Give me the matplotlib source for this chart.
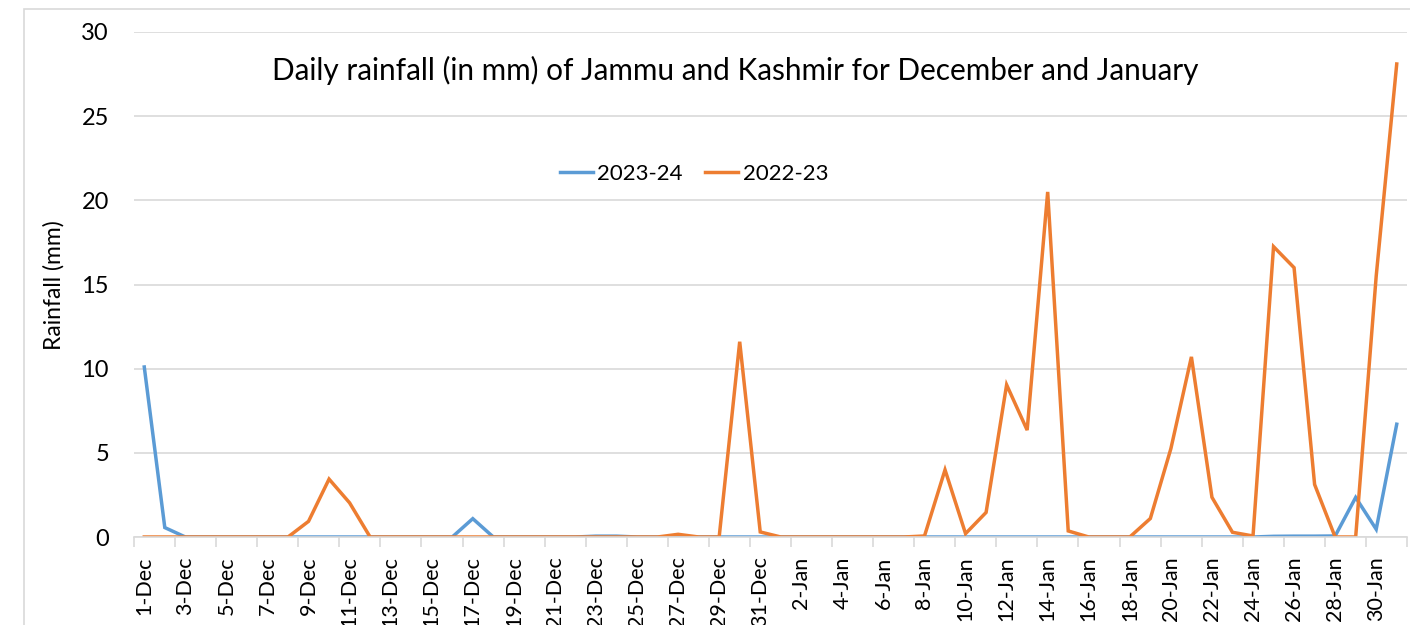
import matplotlib.pyplot as plt
from matplotlib.patches import Rectangle

plt.rcParams['font.family'] = ['Lato', 'DejaVu Sans']

days = [f"{d}-Dec" for d in range(1, 32)] + [f"{d}-Jan" for d in range(1, 32)]

# 2023-24 season, 1-Dec .. 31-Jan
rain_2324 = [10.1, 0.56, 0, 0, 0, 0, 0, 0, 0, 0,
             0, 0, 0, 0, 0, 0, 1.09, 0, 0, 0,
             0, 0, 0.05, 0.05, 0, 0, 0, 0, 0, 0,
             0,
             0, 0, 0, 0, 0, 0, 0, 0, 0, 0,
             0, 0, 0, 0, 0, 0, 0, 0, 0, 0,
             0, 0, 0, 0, 0.04, 0.05, 0.05, 0.06, 2.35, 0.46,
             6.7]

# 2022-23 season, 1-Dec .. 31-Jan
rain_2223 = [0, 0, 0, 0, 0, 0, 0, 0, 0.93, 3.44,
             2.03, 0, 0, 0, 0, 0, 0, 0, 0, 0,
             0, 0, 0, 0, 0, 0, 0.16, 0, 0, 11.6,
             0.3,
             0, 0, 0, 0, 0, 0, 0, 0.06, 3.99, 0.2,
             1.46, 9.04, 6.35, 20.5, 0.36, 0, 0, 0, 1.1, 5.25,
             10.7, 2.36, 0.28, 0.06, 17.25, 16.0, 3.12, 0, 0, 15.5,
             28.1]

blue = "#5B9BD5"
orange = "#ED7D31"
grid = "#D9D9D9"

fig = plt.figure(figsize=(14.1, 6.25), dpi=100)
ax = fig.add_axes([134/1410, 88/625, 1273/1410, 505/625])

x = list(range(len(days)))
ax.plot(x, rain_2324, color=blue, lw=2.5, label="2023-24", solid_joinstyle="miter")
ax.plot(x, rain_2223, color=orange, lw=2.5, label="2022-23", solid_joinstyle="miter")

ax.set_xlim(-0.5, len(days) - 0.5)
ax.set_ylim(0, 30)
ax.set_yticks(range(0, 31, 5))
ax.tick_params(axis='y', length=0, labelsize=17, pad=18)
ax.yaxis.grid(True, color=grid, lw=1.2)
ax.set_axisbelow(True)

ax.set_xticks(x[::2])
ax.set_xticklabels(days[::2], rotation=90, fontsize=15.5)
ax.tick_params(axis='x', length=0, pad=14)
ax.set_xticks([i - 0.5 for i in range(0, len(days) + 1, 2)], minor=True)
ax.tick_params(axis='x', which='minor', length=7, color=grid, width=1.2)

for s in ['top', 'right', 'left']:
    ax.spines[s].set_visible(False)
ax.spines['bottom'].set_color(grid)
ax.spines['bottom'].set_linewidth(1.2)

ax.set_ylabel("Rainfall (mm)", fontsize=16.5)
ax.yaxis.set_label_coords(65/1410, 340/625, transform=fig.transFigure)

fig.text(735/1410, 1 - 70/625, "Daily rainfall (in mm) of Jammu and Kashmir for December and January",
         ha='center', va='center', fontsize=21.4)

ax.legend(loc='center', bbox_to_anchor=(694/1410, 1 - 174/625), bbox_transform=fig.transFigure,
          ncol=2, frameon=False, fontsize=16, handlelength=1.5, handletextpad=0.2,
          columnspacing=1.0)

fig.add_artist(Rectangle((24/1410, -0.1), 1.2, 1.1 - 9/625, transform=fig.transFigure,
                         fill=False, edgecolor=grid, lw=1.2))

fig.savefig("out.png", dpi=100)
